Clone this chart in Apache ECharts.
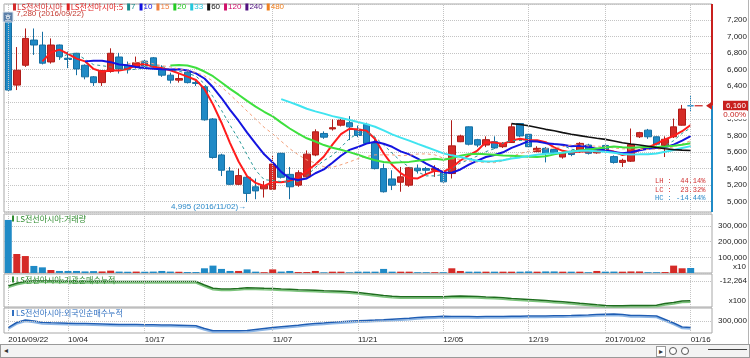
<!DOCTYPE html>
<html><head><meta charset="utf-8">
<script src="https://cdn.jsdelivr.net/npm/echarts@6/dist/echarts.min.js"></script>
<style>
html,body{margin:0;padding:0;background:#fff}
#wrap{position:relative;width:750px;height:358px}
#c{width:750px;height:358px}
#sb{position:absolute;left:0;top:344px;width:748px;height:12px;background:#f3f3f3;border:1px solid #9a9a9a;font:8px "DejaVu Sans",sans-serif;color:#333}
#sb .l{position:absolute;left:3px;top:0;line-height:12px}
#sb .r{position:absolute;left:655px;top:1px;width:8px;height:9px;border:1px solid #9a9a9a;background:#fff;line-height:9px;text-align:center}
#sb .z{position:absolute;top:2px;width:6px;height:6px;border:1px solid #555;border-radius:50%;background:#fff}
#sb .s{position:absolute;left:707px;top:4px;width:39px;border-top:1px solid #444}
#rl{position:absolute;left:748px;top:0;width:1px;height:344px;background:#b4b4b4}
</style>
</head><body><div id="wrap"><div id="c"></div><div id="rl"></div>
<div id="sb"><span class="l">◂</span><span class="r">▸</span><span class="z" style="left:668px"></span><span class="z" style="left:680px"></span><span class="s"></span></div></div>
<script>
const stockName = 'LS전선아시아';
const dates = ['2016/09/22','2016/09/23','2016/09/26','2016/09/27','2016/09/28','2016/09/29','2016/09/30','2016/10/04','2016/10/05','2016/10/06',
'2016/10/07','2016/10/10','2016/10/11','2016/10/12','2016/10/13','2016/10/14','2016/10/17','2016/10/18','2016/10/19','2016/10/20',
'2016/10/21','2016/10/24','2016/10/25','2016/10/26','2016/10/27','2016/10/28','2016/10/31','2016/11/01','2016/11/02','2016/11/03',
'2016/11/04','2016/11/07','2016/11/08','2016/11/09','2016/11/10','2016/11/11','2016/11/14','2016/11/15','2016/11/16','2016/11/17',
'2016/11/18','2016/11/21','2016/11/22','2016/11/23','2016/11/24','2016/11/25','2016/11/28','2016/11/29','2016/11/30','2016/12/01',
'2016/12/02','2016/12/05','2016/12/06','2016/12/07','2016/12/08','2016/12/09','2016/12/12','2016/12/13','2016/12/14','2016/12/15',
'2016/12/16','2016/12/19','2016/12/20','2016/12/21','2016/12/22','2016/12/23','2016/12/26','2016/12/27','2016/12/28','2016/12/29',
'2017/01/02','2017/01/03','2017/01/04','2017/01/05','2017/01/06','2017/01/09','2017/01/10','2017/01/11','2017/01/12','2017/01/13','2017/01/16'];
const opens = [7250,6410,6650,6955,6895,6690,6895,6735,6795,6650,
6510,6440,6575,6750,6645,6630,6700,6740,6610,6530,
6470,6565,6440,6390,6000,5565,5370,5210,5295,5180,
5155,5150,5585,5330,5200,5300,5565,5825,5880,5925,
5955,5875,5935,5705,5400,5275,5235,5200,5405,5400,
5380,5360,5340,5725,5905,5750,5685,5725,5665,5715,
5945,5815,5605,5645,5630,5540,5610,5605,5685,5590,
5680,5545,5475,5490,5785,5865,5785,5680,5785,5925,6160];
const highs = [7280,6870,7095,7095,7055,6975,6900,6815,6800,6660,
6520,6590,6855,6800,6695,6755,6720,6750,6650,6560,
6550,6580,6460,6400,6010,5580,5420,5400,5310,5280,
5250,5565,5590,5420,5380,5620,5875,5850,5995,6000,
6035,5920,5955,5765,5460,5380,5420,5420,5450,5420,
5440,5370,5985,5810,5910,5760,5790,5790,5720,5945,
5950,5830,5670,5660,5640,5600,5620,5720,5700,5650,
5690,5560,5520,5885,5845,5880,5790,5790,6005,6170,6290];
const lows = [6340,6350,6630,6775,6660,6670,6715,6615,6530,6480,
6400,6400,6560,6550,6550,6610,6610,6620,6510,6430,
6440,6430,6400,5980,5520,5310,5200,5200,4995,5030,
5050,5140,5280,5030,5180,5290,5550,5760,5860,5910,
5745,5780,5700,5390,5110,5140,5120,5180,5340,5320,
5300,5230,5280,5720,5680,5660,5660,5640,5650,5710,
5780,5650,5600,5475,5570,5520,5550,5590,5570,5580,
5610,5460,5420,5480,5770,5760,5680,5540,5770,5920,6090];
const closes = [6350,6590,6975,6895,6675,6895,6755,6720,6605,6510,
6440,6585,6795,6605,6600,6680,6640,6630,6530,6470,
6490,6440,6430,5990,5535,5380,5210,5315,5100,5130,
5195,5455,5295,5180,5350,5575,5845,5780,5895,5985,
5905,5800,5705,5400,5120,5200,5300,5410,5375,5380,
5400,5240,5675,5795,5695,5685,5750,5650,5705,5905,
5795,5665,5645,5585,5590,5590,5570,5705,5585,5640,
5625,5475,5500,5690,5835,5785,5695,5755,5905,6120,6160];
const volumes = [338000,121000,108000,45000,36000,19000,13000,13000,13000,10000,
12000,10000,15000,9000,8000,9000,8000,9000,13000,9000,
8000,6000,6000,30000,47000,26000,13000,13000,23000,8500,
5000,23000,9000,13000,6000,6000,13000,4000,8500,8500,
4000,8500,8500,8500,26000,8500,8500,8500,5000,5000,
5000,5000,30000,13000,8500,8500,8500,8500,8500,8500,
8500,10000,8500,10000,10000,8500,8500,8500,5000,13000,
8500,9000,8500,10000,10000,5000,5000,6000,47000,30000,32000];
const instCum = [-12514,-12379,-12289,-12264,-12264,-12266,-12274,-12279,-12284,-12287,
-12289,-12289,-12290,-12290,-12291,-12290,-12289,-12290,-12292,-12291,
-12290,-12291,-12292,-12464,-12629,-12664,-12664,-12639,-12599,-12614,
-12629,-12639,-12664,-12679,-12699,-12714,-12729,-12749,-12764,-12779,
-12804,-12839,-12889,-12939,-12989,-13029,-13049,-13049,-13050,-13048,
-13049,-13049,-13029,-13014,-13029,-13044,-13064,-13079,-13104,-13139,
-13164,-13189,-13214,-13244,-13274,-13304,-13339,-13379,-13414,-13454,
-13489,-13499,-13499,-13494,-13489,-13484,-13474,-13389,-13339,-13264,-13249];
const foreignCum = [233000,285000,310000,300000,285000,282000,280000,278000,276000,274000,
272000,270000,268000,266000,265000,264000,263000,262000,261000,260000,
258000,256000,253000,225000,203000,202000,202000,203000,205000,215000,
225000,234000,242000,250000,258000,267000,274000,280000,287000,293000,
298000,303000,306000,309000,313000,318000,323000,328000,334000,339000,
343000,347000,346000,345000,344000,343000,344000,345000,346000,347000,
348000,349000,350000,351000,352000,353000,354000,357000,360000,364000,
368000,370000,364000,356000,354000,352000,350000,315000,280000,240000,236000];
const maPeriods = [5,7,10,15,20,33,60,120,240,480];
const tickDates = ['2016/09/22','2016/10/04','2016/10/17','2016/11/07','2016/11/21','2016/12/05','2016/12/19','2017/01/02','2017/01/16'];
const tickLabels = ['2016/09/22','10/04','10/17','11/07','11/21','12/05','12/19','2017/01/02','01/16'];
const instLabel = -12264;
const foreignLabel = 300000;
const volUnit = 'x10';
const instUnit = 'x100';
const statTexts = ['LH :  44.14%','LC :  23.32%','HC : -14.44%'];
const changeText = '0.00%';
const panelTitles = ['LS전선아시아:거래량','LS전선아시아:기관순매수누적','LS전선아시아:외국인순매수누적'];

const UP='#d52b27', UPB='#b01c18', DN='#1f8ac6', DNB='#166fa2';
const FONT='"Liberation Sans", Arial, sans-serif';
const KFONT='"Noto Sans CJK KR", sans-serif';
const fmt = v => Math.round(v).toLocaleString('en-US');
const maStyle = {
  5:{color:'#ff1c1c',width:2}, 7:{color:'#2a9a9a',width:1,type:[3,3]}, 10:{color:'#1414e0',width:2},
  15:{color:'#f4a07a',width:1,type:[3,3]}, 20:{color:'#3ee03e',width:2}, 33:{color:'#40e4f0',width:2},
  60:{color:'#111111',width:1.6}, 120:{color:'#d0106a',width:1.5}, 240:{color:'#501080',width:1.5}, 480:{color:'#f08020',width:1.5}
};
const legendColors = ['#d42a2a','#e02020','#1a8c8c','#1010e0','#f08040','#22cc22','#22c8dd','#111111','#d0106a','#501080','#f08020'];

const cats = dates.concat([' ','  ']);
const tickIdx = tickDates.map(d => dates.indexOf(d));
const lastI = dates.length-1, lastC = closes[lastI];

function ma(p){ return closes.map((c,i)=> i<p-1 ? null : +(closes.slice(i-p+1,i+1).reduce((a,b)=>a+b,0)/p).toFixed(1)); }

const gridDefs = [[4,208],[214,59],[274,33],[308,25]];
const grids = gridDefs.map(([t,h]) => ({left:4, top:t, width:708, height:h, show:true, borderColor:'#a8a8a8', borderWidth:1, backgroundColor:'#fff'}));
const xAxes = grids.map((g,k)=>({
  type:'category', gridIndex:k, data:cats, boundaryGap:true,
  axisLine:{show:false}, axisTick:{show:false}, splitLine:{show:false},
  axisLabel: k===3 ? {show:true, interval:(i)=>tickIdx.includes(i), formatter:(v,i)=>{const j=tickIdx.indexOf(i);return j>=0?tickLabels[j]:'';},
    align:'left', margin:3, fontSize:8, fontFamily:FONT, color:'#222'} : {show:false}
}));
const yLab = {fontSize:8, fontFamily:FONT, color:'#222', align:'right', margin:35};
const dotted = {show:true, lineStyle:{type:'dotted', color:'#c4c4c4', width:1}};
const yAxes = [
  {type:'value', gridIndex:0, position:'right', min:4875, max:7391, splitNumber:12, minInterval:200, maxInterval:200,
   axisLine:{show:false}, axisTick:{show:false}, splitLine:dotted,
   axisLabel:Object.assign({}, yLab, {formatter:v => (v%200===0 && v>=5000 && v<=7200 && Math.abs(v-lastC)>=100) ? fmt(v) : ''})},
  {type:'value', gridIndex:1, position:'right', min:0, max:375800, interval:100000,
   axisLine:{show:false}, axisTick:{show:false}, splitLine:dotted,
   axisLabel:Object.assign({}, yLab, {formatter:v => (v>0 && v<=300000 && v%100000===0) ? fmt(v) : ''})},
  {type:'value', gridIndex:2, position:'right', min:-13564, max:-11914, interval:1300,
   axisLine:{show:false}, axisTick:{show:false}, splitLine:{show:false},
   axisLabel:Object.assign({}, yLab, {customValues:[instLabel], formatter:v => v===instLabel ? fmt(v) : ''})},
  {type:'value', gridIndex:3, position:'right', min:180000, max:430000, interval:120000,
   axisLine:{show:false}, axisTick:{show:false}, splitLine:{show:false},
   axisLabel:Object.assign({}, yLab, {customValues:[foreignLabel], formatter:v => v===foreignLabel ? fmt(v) : ''})}
];

function gridLines(k, extra){
  return {type:'line', xAxisIndex:k, yAxisIndex:k, data:dates.map(()=>null), silent:true, z:1, showSymbol:false,
    markLine:{silent:true, symbol:['none','none'], label:{show:false}, animation:false,
      lineStyle:{type:'dotted', color:'#c4c4c4', width:1},
      data: tickDates.map(d=>({xAxis:d})).concat(extra||[])}};
}

const candleData = dates.map((d,i)=>{
  const v=[opens[i],closes[i],lows[i],highs[i]];
  return opens[i]===closes[i] ? {value:v, itemStyle:{color:DN,color0:DN,borderColor:DN,borderColor0:DN}} : v;
});
const hiIdx = highs.indexOf(Math.max(...highs));
const loIdx = lows.indexOf(Math.min(...lows));

const series = [
  gridLines(0), gridLines(1), gridLines(2,[{yAxis:instLabel}]), gridLines(3,[{yAxis:foreignLabel}]),
  {type:'candlestick', xAxisIndex:0, yAxisIndex:0, data:candleData, barWidth:7, z:3,
   itemStyle:{color:UP, color0:DN, borderColor:UPB, borderColor0:DNB, borderWidth:1},
   markPoint:{symbol:'circle', symbolSize:0, silent:true, animation:false,
     data:[
      {coord:[dates[hiIdx], highs[hiIdx]], label:{show:true, position:'right', distance:8, offset:[0,1],
        formatter:fmt(highs[hiIdx])+' ('+dates[hiIdx]+')', color:'#c43a30', fontSize:8, fontFamily:FONT}},
      {coord:[dates[loIdx], lows[loIdx]], label:{show:true, position:'left', distance:1, offset:[0,5],
        formatter:fmt(lows[loIdx])+' ('+dates[loIdx]+')→', color:'#2a88c8', fontSize:8, fontFamily:FONT}}
     ]}}
];
maPeriods.filter(p=>p<=closes.length).forEach(p=>{
  const s = maStyle[p];
  series.push({type:'line', name:'MA'+p, xAxisIndex:0, yAxisIndex:0, data:ma(p), showSymbol:false, symbol:'none', z:4,
    silent:true, lineStyle:{color:s.color, width:s.width, type:s.type||'solid'}});
});
const volSeriesIndex = series.length;
series.push({type:'bar', xAxisIndex:1, yAxisIndex:1, data:volumes, barWidth:7, z:5, clip:false,
  itemStyle:{color:p => closes[p.dataIndex]>opens[p.dataIndex] ? UP : DN}});
series.push({type:'line', xAxisIndex:2, yAxisIndex:2, data:instCum, showSymbol:false, symbol:'none', z:3,
  lineStyle:{color:'#1e6e1e', width:1.5, shadowColor:'#7cc47c', shadowOffsetY:1.5, shadowBlur:0}});
series.push({type:'line', xAxisIndex:3, yAxisIndex:3, data:foreignCum, showSymbol:false, symbol:'none', z:3,
  lineStyle:{color:'#1f5db3', width:1.5, shadowColor:'#8cb6e6', shadowOffsetY:1.5, shadowBlur:0}});

const chart = echarts.init(document.getElementById('c'));
chart.setOption({animation:false, grid:grids, xAxis:xAxes, yAxis:yAxes, series:series});

const [xC, yC] = chart.convertToPixel({gridIndex:0}, [dates[lastI], lastC]);
const R = 712;
function richTitle(text, color){
  return {text:'{m| }{t|'+text+'}', rich:{m:{backgroundColor:color, width:2, height:6}, t:{fill:color, color:color, fontSize:8, fontFamily:KFONT, padding:[0,0,0,2]}}};
}
const legendTexts = [stockName, stockName+':5'].concat(maPeriods.slice(1).map(String));
let legStr = ''; const legRich = {};
legendTexts.forEach((t,k)=>{
  legStr += '{m'+k+'| }{t'+k+'|'+t+'}' + (k<legendTexts.length-1 ? '{s| }' : '');
  legRich['m'+k] = {backgroundColor:legendColors[k], width:3, height:7};
  legRich['t'+k] = {fill:legendColors[k], color:legendColors[k], fontSize:8, fontFamily: k<2?KFONT:FONT, padding:[0,0,0,1]};
});
legRich.s = {width:4};

let info = '';
try {
  const list = chart.getZr().storage.getDisplayList(true);
  const hits = list.filter(el => el.contain && el.contain(8, 240));
  info = 'n=' + list.length + ' ' + hits.map(el => el.type + '/z' + el.z + '/z2' + el.z2 + '/' + (el.style && el.style.fill) + '/' + (el.shape ? JSON.stringify(el.shape).slice(0,50) : '')).join(' ; ');
  const bars = list.filter(el => el.shape && el.shape.width === 7 && Math.abs(el.shape.x - 4.77) < 0.5);
  info += ' ' + bars.map(el => el.type + '/z' + el.z + '/' + el.style.fill + '/' + JSON.stringify(el.shape).slice(0,60) + '/op' + el.style.opacity + '/inv' + el.invisible).join(' ; ');
} catch(e) { info = ''; }

const graphics = [
  {type:'line', z:100, shape:{x1:R,y1:4,x2:R,y2:yC}, style:{stroke:'#c8201e', lineWidth:2}},
  {type:'line', z:100, shape:{x1:R,y1:yC,x2:R,y2:212}, style:{stroke:'#1f8ac6', lineWidth:2}},
  {type:'line', z:100, shape:{x1:xC+4,y1:yC,x2:xC+12,y2:yC}, style:{stroke:'#c8201e', lineWidth:1.2}},
  {type:'polygon', z:101, shape:{points:[[R-6,yC],[R,yC-4],[R,yC+4]]}, style:{fill:'#c8201e'}},
  {type:'rect', z:100, shape:{x:723,y:yC-5,width:25,height:10}, style:{fill:'#c8201e'}},
  {type:'text', z:101, x:746, y:yC, style:{text:fmt(lastC), fill:'#fff', font:'8px '+FONT, align:'right', verticalAlign:'middle'}},
  {type:'text', z:101, x:747, y:yC+9, style:{text:changeText, fill:'#c8201e', font:'8px '+FONT, align:'right', verticalAlign:'middle', backgroundColor:'#fff', padding:[1,1,0,3]}},
  {type:'text', z:101, x:655, y:181.5, style:{text:statTexts[0], fill:'#d03030', font:'7px "Liberation Mono", monospace', verticalAlign:'middle'}},
  {type:'text', z:101, x:655, y:190, style:{text:statTexts[1], fill:'#d03030', font:'7px "Liberation Mono", monospace', verticalAlign:'middle'}},
  {type:'text', z:101, x:655, y:198.5, style:{text:statTexts[2], fill:'#2a88c8', font:'7px "Liberation Mono", monospace', verticalAlign:'middle'}},
  {type:'text', z:102, x:13, y:3, style:{text:legStr, rich:legRich, font:'8px '+FONT}},
  {type:'rect', z:102, shape:{x:3,y:12,width:10,height:10}, style:{fill:'#5b7fa8', stroke:'#dde5ee', lineWidth:1}},
  {type:'text', z:103, x:8, y:17, style:{text:'호', fill:'#fff', font:'7px '+KFONT, align:'center', verticalAlign:'middle'}},
  {type:'text', z:102, x:12, y:214.5, style:richTitle(panelTitles[0], '#2e8b2e')},
  {type:'text', z:102, x:12, y:275.5, style:richTitle(panelTitles[1], '#2e8b2e')},
  {type:'text', z:102, x:12, y:309, style:richTitle(panelTitles[2], '#2f6fc0')},
  {type:'text', z:101, x:746, y:267, style:{text:volUnit, fill:'#222', font:'8px '+FONT, align:'right', verticalAlign:'middle'}},
  {type:'text', z:101, x:746, y:301, style:{text:instUnit, fill:'#222', font:'8px '+FONT, align:'right', verticalAlign:'middle'}},
  {type:'rect', z:104, shape:{x:0,y:150,width:750,height:60}, style:{fill:'rgba(255,255,204,0)'}},
  {type:'text', z:105, x:4, y:152, style:{text:info, fill:'rgba(0,0,0,0)', font:'8px '+FONT, width:740, overflow:'break'}}
];

chart.setOption({graphic:graphics});
</script>
</body></html>
